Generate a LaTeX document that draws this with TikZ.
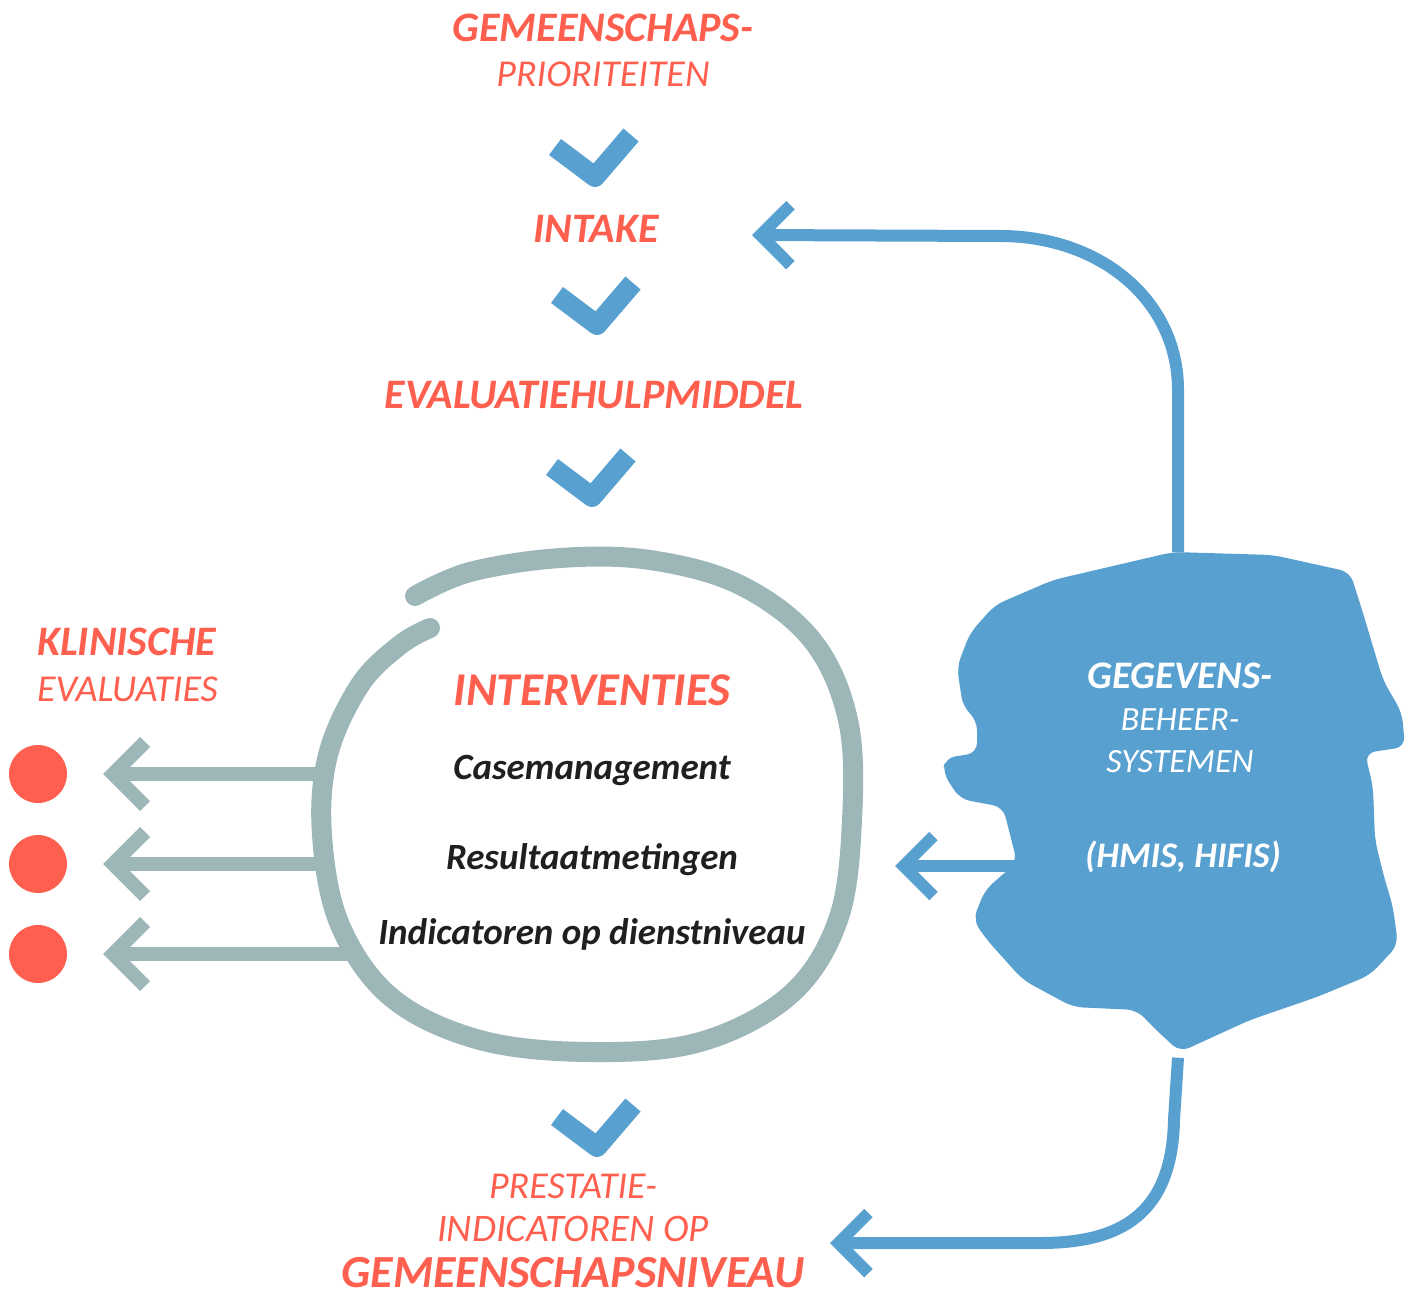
\documentclass[tikz,border=0pt]{standalone}
\usepackage{fontspec}
\setmainfont{Carlito}
\usetikzlibrary{arrows.meta,positioning,shapes.geometric}

\definecolor{coral}{HTML}{FF5F4E}
\definecolor{paint}{HTML}{58A0D0}
\definecolor{slate}{HTML}{9DB7B8}

\tikzset{
	heading/.style={text=coral,anchor=base,inner sep=0pt,font=\bfseries\itshape\fontsize{42}{44}\selectfont},
	subhead/.style={text=coral,anchor=base,inner sep=0pt,font=\itshape\fontsize{38}{40}\selectfont},
	item/.style={text=black!88,anchor=base,inner sep=0pt,font=\bfseries\itshape\fontsize{37}{40}\selectfont},
	tickline/.style={paint,line width=20pt,line join=round},
	barrow/.style={paint,line width=12pt,-{Straight Barb[length=30pt,width=60pt]}},
	garrow/.style={slate,line width=14pt,-{Straight Barb[length=32pt,width=64pt]}},
	tick/.pic={\draw[tickline] (-40,-10) -- (0,20) -- (36,-22);}
}

\begin{document}
\begin{tikzpicture}[x=1pt,y=-1pt]
	\useasboundingbox (0,0) rectangle (1414,1298);

	% flow down the middle
	\node[heading] (prio1) at (603,42) {GEMEENSCHAPS-};
	\node[subhead] (prio2) at (603,87) {PRIORITEITEN};
	\node[heading] (intake) at (596,242) {INTAKE};
	\node[heading] (evalhulp) at (594,408) {EVALUATIEHULPMIDDEL};
	\foreach \x/\y in {595/157, 597/305, 592/477, 597/1127}
	\pic at (\x,\y) {tick};

	% interventions ring
	\node[ellipse,minimum width=525pt,minimum height=495pt] (ring) at (587,806) {};
	\draw[slate,line width=20pt,line cap=round] plot[smooth,tension=0.6] coordinates {
		(415,596) (470,572) (560,558) (650,560) (740,585) (812,640) (848,720) (852,820)
		(838,920) (790,995) (700,1042) (590,1052) (480,1040) (392,998) (340,925)
		(322,835) (328,755) (360,685) (400,645) (430,628)};
	\node[heading,font=\bfseries\itshape\fontsize{47}{50}\selectfont] (interv) at (592,705) {INTERVENTIES};
	\node[item] (case) at (592,779) {Casemanagement};
	\node[item] (result) at (592,869) {Resultaatmetingen};
	\node[item] (indic) at (592,944) {Indicatoren op dienstniveau};

	% clinical evaluations
	\node[heading,anchor=base west] (klin1) at (37,655) {KLINISCHE};
	\node[subhead,anchor=base west] (klin2) at (37,701) {EVALUATIES};
	\foreach \i/\y/\s in {1/774/6, 2/864/2, 3/954/28} {
		\node[circle,fill=coral,minimum size=58pt,inner sep=0pt] (dot\i) at (38,\y) {};
		\draw[garrow,shorten >=36pt] ([xshift=\s pt]ring.west |- dot\i) -- (dot\i.east);
	}

	% data systems
	\node[minimum width=460pt,minimum height=505pt] (data) at (1178,805) {};
	\fill[paint,rounded corners=10pt] (1053,580) -- (1173,552) -- (1273,555) -- (1350,572)
		-- (1363,613) -- (1383,680) -- (1402,713) -- (1405,747) -- (1365,753) -- (1373,787)
		-- (1375,840) -- (1383,873) -- (1393,907) -- (1398,945) -- (1370,975)
		-- (1317,997) -- (1250,1020) -- (1180,1052) -- (1153,1027) -- (1137,1010)
		-- (1073,1007) -- (1023,980) -- (987,940) -- (973,920) -- (985,890) -- (1017,862)
		-- (1003,807) -- (960,799) -- (943,773) -- (945,758) -- (977,753) -- (977,720)
		-- (963,707) -- (957,667) -- (970,633) -- (995,605) -- cycle;
	\node[heading,text=white,font=\bfseries\itshape\fontsize{39}{41}\selectfont] (gegev1) at (1180,688) {GEGEVENS-};
	\node[subhead,text=white,font=\itshape\fontsize{34}{36}\selectfont] (gegev2) at (1180,730) {BEHEER-};
	\node[subhead,text=white,font=\itshape\fontsize{34}{36}\selectfont] (gegev3) at (1180,772) {SYSTEMEN};
	\node[heading,text=white,font=\bfseries\itshape\fontsize{36}{38}\selectfont] (hmis) at (1183,867) {(HMIS, HIFIS)};

	% performance indicators
	\node[subhead] (prest1) at (573,1198) {PRESTATIE-};
	\node[subhead,font=\itshape\fontsize{39}{41}\selectfont] (prest2) at (573,1241) {INDICATOREN OP};
	\node[heading,font=\bfseries\itshape\fontsize{46}{48}\selectfont] (prest3) at (573,1287) {GEMEENSCHAPSNIVEAU};

	% feedback arrows
	\coordinate (intakeIn) at (752,235);
	\coordinate (ringIn) at (895,866);
	\coordinate (prestIn) at (830,1243);
	\draw[barrow] (data.north) -- (1178,390) .. controls (1178,300) and (1100,236) .. (1000,236) -- (intakeIn);
	\draw[barrow] ([xshift=70pt]data.west |- ringIn) -- (ringIn);
	\draw[barrow] (data.south) -- (1174,1120) .. controls (1172,1215) and (1120,1243) .. (1040,1243) -- (prestIn);
\end{tikzpicture}
\end{document}
